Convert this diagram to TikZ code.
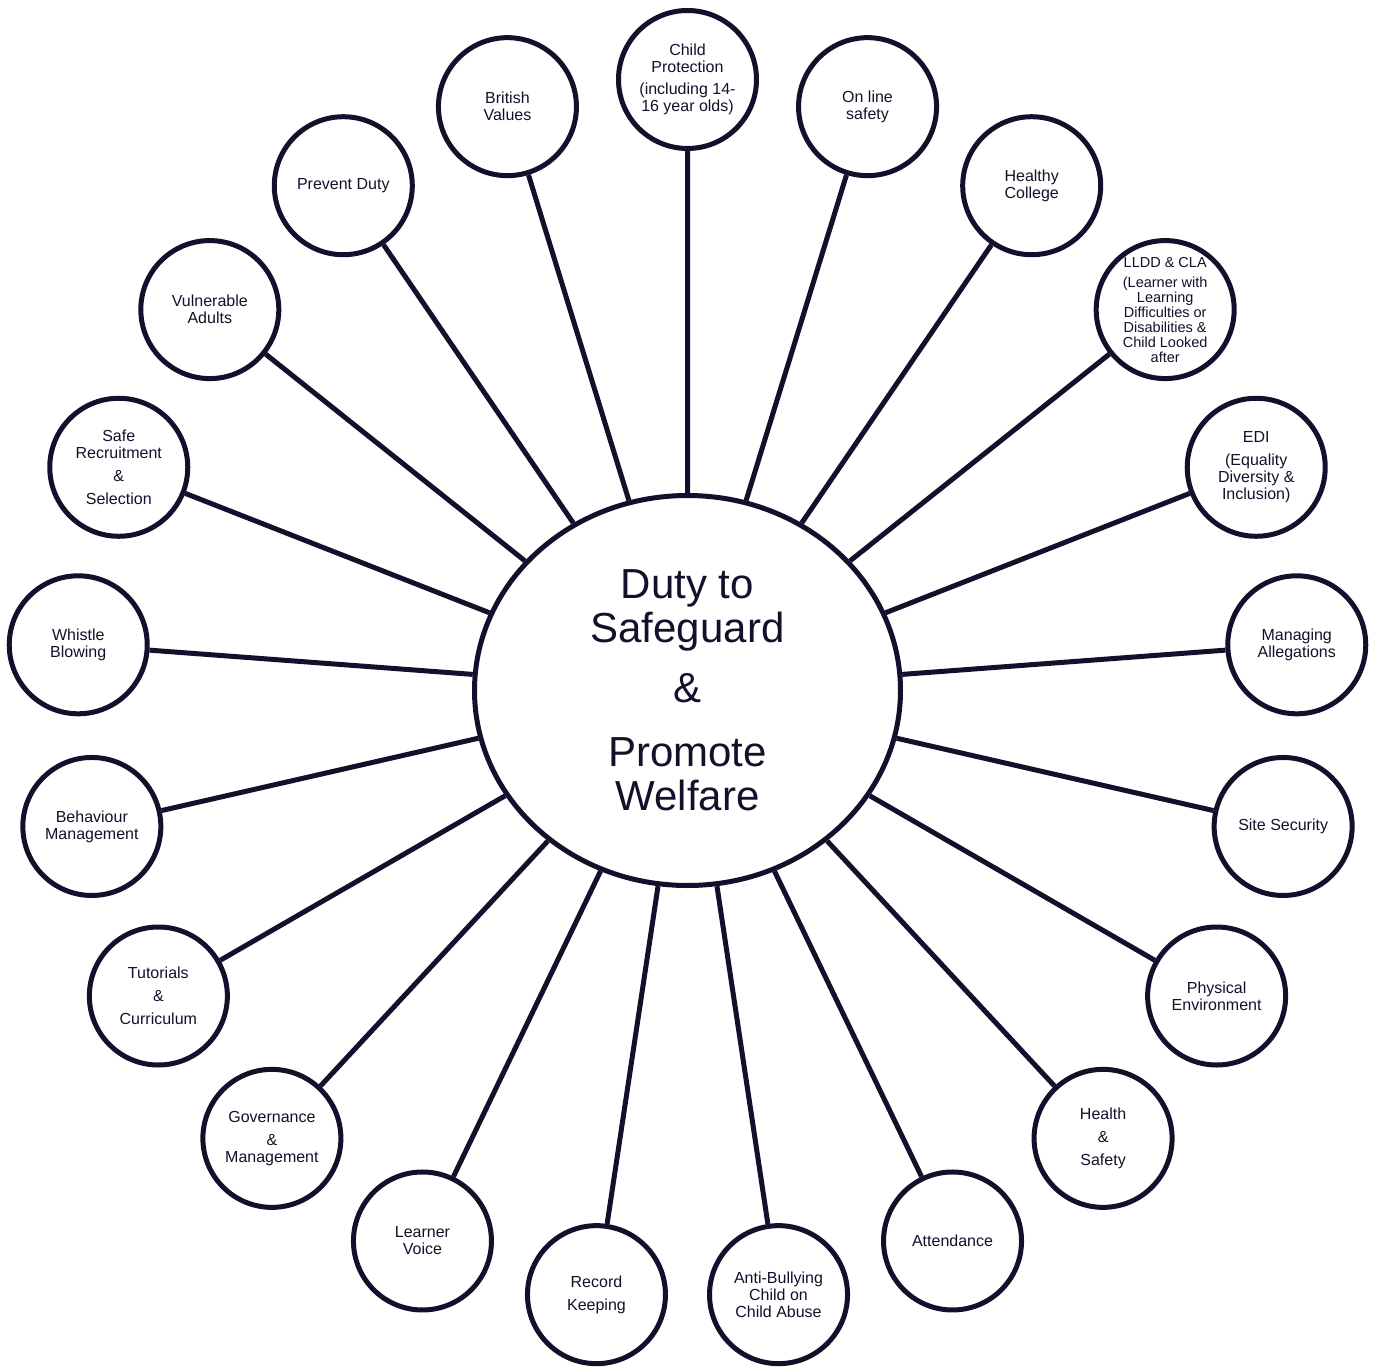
\documentclass[tikz,border=0pt]{standalone}
\usepackage{fontspec}
\setmainfont{Liberation Sans}
\usepackage{tikz}
\usetikzlibrary{shapes.geometric,positioning}
\definecolor{tinta}{RGB}{17,17,43}

\begin{document}
\begin{tikzpicture}[
      line width=5pt,
      color=tinta
    ]

    \tikzstyle{nucleo} = [
        ellipse,
        draw,
        minimum width=426pt,
        minimum height=390pt,
        inner sep=0pt,
        align=center,
        font=\fontsize{42}{44}\selectfont
    ]

    \tikzstyle{burbuja} = [
        circle,
        draw,
        %fill=white,
        minimum size=138pt,
        inner sep=0pt,
        align=center,
        font=\fontsize{16}{17}\selectfont
    ]

    \tikzstyle{linea} = [
        draw,
    ]

    \useasboundingbox (-687.5pt,-680.5pt) rectangle (687.5pt,690.5pt);

    \node [nucleo]                         (deber) {Duty to\\Safeguard\\[16pt]\&\\[20pt]Promote\\Welfare};

    \node [burbuja] at (90:611pt)     (proteccion) {Child\\Protection\\[5pt](including 14-\\16 year olds)};
    \node [burbuja] at (107.14:611pt)    (valores) {British\\Values};
    \node [burbuja] at (124.29:611pt)    (prevent) {Prevent Duty};
    \node [burbuja] at (141.43:611pt) (vulnerables) {Vulnerable\\Adults};
    \node [burbuja] at (158.57:611pt)  (seleccion) {Safe\\Recruitment\\[6pt]\&\\[6pt]Selection};
    \node [burbuja] at (175.71:611pt)   (denuncia) {Whistle\\Blowing};
    \node [burbuja] at (192.86:611pt)   (conducta) {Behaviour\\Management};
    \node [burbuja] at (210:611pt)      (tutorias) {Tutorials\\[6pt]\&\\[6pt]Curriculum};
    \node [burbuja] at (227.14:611pt)   (gobierno) {Governance\\[6pt]\&\\Management};
    \node [burbuja] at (244.29:611pt)        (voz) {Learner\\Voice};
    \node [burbuja] at (261.43:611pt)   (registro) {Record\\[6pt]Keeping};
    \node [burbuja] at (278.57:611pt)      (acoso) {Anti-Bullying\\Child on\\Child Abuse};
    \node [burbuja] at (295.71:611pt) (asistencia) {Attendance};
    \node [burbuja] at (312.86:611pt)      (salud) {Health\\[6pt]\&\\[6pt]Safety};
    \node [burbuja] at (330:611pt)       (entorno) {Physical\\Environment};
    \node [burbuja] at (347.14:611pt)      (sitio) {Site Security};
    \node [burbuja] at (4.29:611pt)  (alegaciones) {Managing\\Allegations};
    \node [burbuja] at (21.43:611pt)         (edi) {EDI\\[6pt](Equality\\Diversity \&\\Inclusion)};
    \node [burbuja, font=\fontsize{14.5}{15}\selectfont]
                    at (38.57:611pt)        (lldd) {LLDD \& CLA\\[5pt](Learner with\\Learning\\Difficulties or\\Disabilities \&\\Child Looked\\after};
    \node [burbuja] at (55.71:611pt)   (saludable) {Healthy\\College};
    \node [burbuja] at (72.86:611pt)      (online) {On line\\safety};

    \path [linea] (deber) -- (proteccion) (deber) -- (valores) (deber) -- (prevent);
    \path [linea] (deber) -- (vulnerables) (deber) -- (seleccion) (deber) -- (denuncia);
    \path [linea] (deber) -- (conducta) (deber) -- (tutorias) (deber) -- (gobierno);
    \path [linea] (deber) -- (voz) (deber) -- (registro) (deber) -- (acoso);
    \path [linea] (deber) -- (asistencia) (deber) -- (salud) (deber) -- (entorno);
    \path [linea] (deber) -- (sitio) (deber) -- (alegaciones) (deber) -- (edi);
    \path [linea] (deber) -- (lldd) (deber) -- (saludable) (deber) -- (online);

    \end{tikzpicture}
\end{document}
